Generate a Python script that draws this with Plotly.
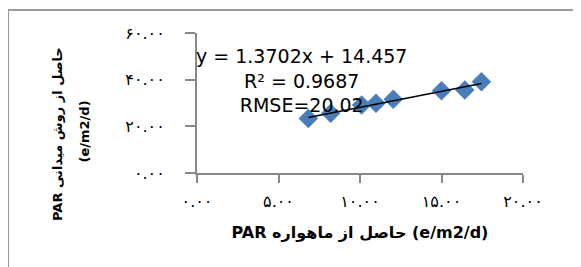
import plotly.graph_objects as go

# ---- data ----
x_sat = [6.83, 8.2, 10.1, 10.98, 12.04, 15.0, 16.43, 17.45]
y_field = [23.4, 25.6, 29.1, 29.9, 31.6, 35.3, 35.6, 39.1]

slope = 1.3702
intercept = 14.457
r2_label = "R² = 0.9687"
rmse_label = "RMSE=20.02"

x_tickvals = [0, 5, 10, 15, 20]
x_ticktext = ["۰.۰۰", "۵.۰۰", "۱۰.۰۰", "۱۵.۰۰", "۲۰.۰۰"]
y_tickvals = [0, 20, 40, 60]
y_ticktext = ["۰.۰۰", "۲۰.۰۰", "۴۰.۰۰", "۶۰.۰۰"]

x_title = "PAR حاصل از ماهواره (e/m2/d)"
y_title_1 = "PAR حاصل از روش میدانی"
y_title_2 = "(e/m2/d)"

# trendline from the displayed equation, over the data's x extent
trend_x = [min(x_sat), max(x_sat)]
trend_y = [slope * v + intercept for v in trend_x]

# page body has an 8px margin; screen coordinates below are in the 581x267 window
OFF = 8
W, H = 581 - OFF, 267 - OFF
PLOT_L, PLOT_R, PLOT_T, PLOT_B = 197, 523, 33, 173  # screen px
ML, MT = PLOT_L - OFF, PLOT_T - OFF
MR, MB = W - (PLOT_R - OFF), H - (PLOT_B - OFF)
PW, PH = PLOT_R - PLOT_L, PLOT_B - PLOT_T

def px_x(p):
    return (p - PLOT_L) / PW

def px_y(p):
    return (PLOT_B - p) / PH

fig = go.Figure()
fig.add_trace(go.Scatter(
    x=x_sat, y=y_field, mode="markers",
    marker=dict(symbol="diamond", size=15, color="#4a7ebb", line=dict(width=0)),
    showlegend=False, hoverinfo="skip",
))
fig.add_trace(go.Scatter(
    x=trend_x, y=trend_y, mode="lines",
    line=dict(color="black", width=1.5),
    showlegend=False, hoverinfo="skip",
))

eq_text = f"y = {slope}x + {intercept}<br>{r2_label}<br>{rmse_label}"
fig.add_annotation(
    x=px_x(301), y=px_y(80), xref="paper", yref="paper", text=eq_text, showarrow=False,
    xanchor="center", yanchor="middle", align="center",
    font=dict(family="DejaVu Sans", size=19, color="black"),
)

axis_font = dict(family="DejaVu Sans", size=13, color="black", weight="bold")
fig.add_annotation(
    x=px_x(57), y=px_y(134), xref="paper", yref="paper", text=y_title_1,
    textangle=-90, showarrow=False, xanchor="center", yanchor="middle",
    font=axis_font,
)
fig.add_annotation(
    x=px_x(84), y=px_y(131.5), xref="paper", yref="paper", text=y_title_2,
    textangle=-90, showarrow=False, xanchor="center", yanchor="middle",
    font=axis_font,
)

fig.add_shape(
    type="rect", xref="paper", yref="paper",
    x0=px_x(8), x1=1.6, y0=-1.0, y1=px_y(10),
    line=dict(color="#9a9a9a", width=2), fillcolor="rgba(0,0,0,0)", layer="below",
)

fig.update_layout(
    width=W, height=H,
    margin=dict(l=ML, r=MR, t=MT, b=MB),
    paper_bgcolor="white", plot_bgcolor="white",
    xaxis=dict(
        range=[0, 20], tickvals=x_tickvals, ticktext=x_ticktext,
        showgrid=False, zeroline=False, showline=True, linecolor="#888888", linewidth=2,
        ticks="outside", ticklen=8, tickwidth=2, tickcolor="#888888",
        tickfont=dict(family="DejaVu Sans", size=16, color="black"),
        ticklabelstandoff=5,
        title=dict(text=x_title, font=dict(family="DejaVu Sans", size=16, color="black", weight="bold"), standoff=17),
        automargin=False,
    ),
    yaxis=dict(
        range=[0, 60], tickvals=y_tickvals, ticktext=y_ticktext,
        showgrid=False, zeroline=False, showline=True, linecolor="#888888", linewidth=2,
        ticks="outside", ticklen=10, tickwidth=2, tickcolor="#888888",
        tickfont=dict(family="DejaVu Sans", size=16, color="black"),
        ticklabelstandoff=17,
        automargin=False,
    ),
)

fig.write_html("out.html")
